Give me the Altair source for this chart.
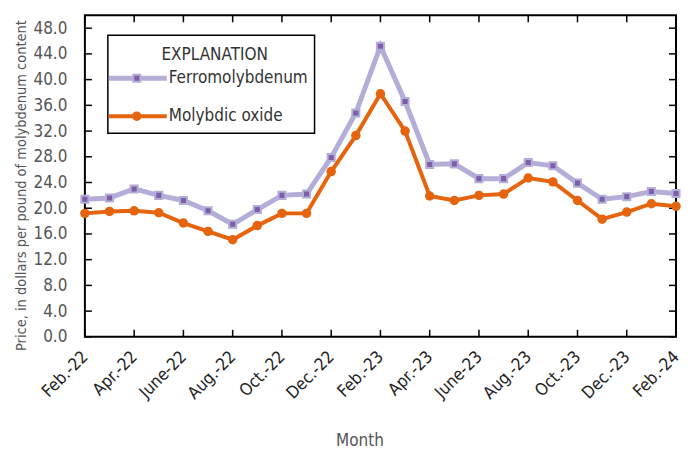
import altair as alt
import pandas as pd

months = ["Feb.-22", "Mar.-22", "Apr.-22", "May-22", "June-22", "July-22", "Aug.-22",
          "Sept.-22", "Oct.-22", "Nov.-22", "Dec.-22", "Jan.-23", "Feb.-23", "Mar.-23",
          "Apr.-23", "May-23", "June-23", "July-23", "Aug.-23", "Sept.-23", "Oct.-23",
          "Nov.-23", "Dec.-23", "Jan.-24", "Feb.-24"]
tick_labels = months[::2]
y_ticks = [0, 4, 8, 12, 16, 20, 24, 28, 32, 36, 40, 44, 48]

ferro = [21.4, 21.6, 23.0, 22.0, 21.2, 19.6, 17.5, 19.8, 22.0, 22.2, 27.9, 34.8, 45.2,
         36.6, 26.8, 26.9, 24.6, 24.6, 27.1, 26.6, 23.9, 21.4, 21.8, 22.6, 22.3]
oxide = [19.2, 19.5, 19.6, 19.3, 17.7, 16.4, 15.1, 17.3, 19.2, 19.2, 25.7, 31.3, 37.8,
         32.0, 21.9, 21.2, 22.0, 22.2, 24.7, 24.1, 21.2, 18.3, 19.4, 20.7, 20.3]

FONT = "DejaVu Sans Condensed, sans-serif"
LAV = "#b3aed8"
PURPLE = "#7d5fa7"
ORANGE = "#e5640d"
W, H = 592, 322

df = pd.DataFrame({
    "month": months * 2,
    "series": ["Ferromolybdenum"] * len(months) + ["Molybdic oxide"] * len(months),
    "price": ferro + oxide,
})

x = alt.X("month:O",
          scale=alt.Scale(type="point", domain=months, padding=0),
          axis=alt.Axis(values=tick_labels, labelAngle=-45, labelAlign="right",
                        labelBaseline="middle", labelPadding=17, labelFontSize=17,
                        labelFont=FONT, labelColor="#222", ticks=False, domain=False,
                        grid=False, title="Month", titleFont=FONT, titleFontSize=17,
                        titleFontWeight="normal", titleColor="#555", titleX=275,
                        titleY=109, titleAlign="center", titleBaseline="alphabetic",
                        labelOverlap=False))
y = alt.Y("price:Q",
          scale=alt.Scale(domain=[0, 50], nice=False, zero=True),
          axis=alt.Axis(values=y_ticks, format=".1f", ticks=False, domain=False,
                        grid=False, labelPadding=18, labelFontSize=17, labelFont=FONT,
                        labelColor="#555",
                        title="Price, in dollars per pound of molybdenum content",
                        titleFont=FONT, titleFontSize=14.5, titleFontWeight="normal",
                        titleColor="#555", titleX=-59, titleY=170, titleAlign="center",
                        titleBaseline="alphabetic", titleAngle=-90))

base = alt.Chart(df)
ferro_line = base.transform_filter(alt.datum.series == "Ferromolybdenum").mark_line(
    color=LAV, strokeWidth=5).encode(x=x, y=y)
ferro_pts = base.transform_filter(alt.datum.series == "Ferromolybdenum").mark_point(
    shape="square", filled=True, fill=PURPLE, stroke=LAV, strokeWidth=2, size=50,
    opacity=1).encode(x=x, y=y)
oxide_line = base.transform_filter(alt.datum.series == "Molybdic oxide").mark_line(
    color=ORANGE, strokeWidth=4).encode(x=x, y=y)
oxide_pts = base.transform_filter(alt.datum.series == "Molybdic oxide").mark_point(
    shape="circle", filled=True, color=ORANGE, size=90, opacity=1).encode(x=x, y=y)

ydf = pd.DataFrame({"price": y_ticks})
xdf = pd.DataFrame({"month": tick_labels})
tick_l = alt.Chart(ydf).mark_rule(color="black", strokeWidth=1.5).encode(
    y=y, x=alt.value(0), x2=alt.value(7))
tick_r = alt.Chart(ydf).mark_rule(color="black", strokeWidth=1.5).encode(
    y=y, x=alt.value(W - 7), x2=alt.value(W))
tick_b = alt.Chart(xdf).mark_rule(color="black", strokeWidth=1.5).encode(
    x=x, y=alt.value(H - 7), y2=alt.value(H))
tick_t = alt.Chart(xdf).mark_rule(color="black", strokeWidth=1.5).encode(
    x=x, y=alt.value(0), y2=alt.value(7))

one = alt.Data(values=[{"k": 1}])
leg_box = alt.Chart(one).mark_rect(fill="white", stroke="black", strokeWidth=1.5).encode(
    x=alt.value(23), x2=alt.value(230), y=alt.value(20), y2=alt.value(118))
leg_title = alt.Chart(one).mark_text(font=FONT, fontSize=17, color="#333",
                                     align="center", baseline="middle").encode(
    x=alt.value(130), y=alt.value(40), text=alt.value("EXPLANATION"))
leg_f_line = alt.Chart(one).mark_rule(color=LAV, strokeWidth=5).encode(
    x=alt.value(24), x2=alt.value(82), y=alt.value(63))
leg_f_pt = alt.Chart(one).mark_point(shape="square", filled=True, fill=PURPLE, stroke=LAV,
                                     strokeWidth=2, size=50, opacity=1).encode(
    x=alt.value(52), y=alt.value(63))
leg_f_txt = alt.Chart(one).mark_text(font=FONT, fontSize=17, color="#333",
                                     align="left", baseline="middle").encode(
    x=alt.value(84), y=alt.value(63), text=alt.value("Ferromolybdenum"))
leg_o_line = alt.Chart(one).mark_rule(color=ORANGE, strokeWidth=4).encode(
    x=alt.value(24), x2=alt.value(82), y=alt.value(101))
leg_o_pt = alt.Chart(one).mark_point(shape="circle", filled=True, color=ORANGE, size=90,
                                     opacity=1).encode(x=alt.value(52), y=alt.value(101))
leg_o_txt = alt.Chart(one).mark_text(font=FONT, fontSize=17, color="#333",
                                     align="left", baseline="middle").encode(
    x=alt.value(84), y=alt.value(101), text=alt.value("Molybdic oxide"))

chart = alt.layer(
    tick_l, tick_r, tick_b, tick_t,
    ferro_line, ferro_pts, oxide_line, oxide_pts,
    leg_box, leg_title, leg_f_line, leg_f_pt, leg_f_txt, leg_o_line, leg_o_pt, leg_o_txt,
).properties(
    width=W, height=H,
    autosize=alt.AutoSizeParams(type="none"),
    padding={"left": 77, "top": 7, "right": 8, "bottom": 112},
    background="white",
).configure_view(stroke="black", strokeWidth=2)

chart.save("out.html", embed_options={"renderer": "svg", "actions": False})
